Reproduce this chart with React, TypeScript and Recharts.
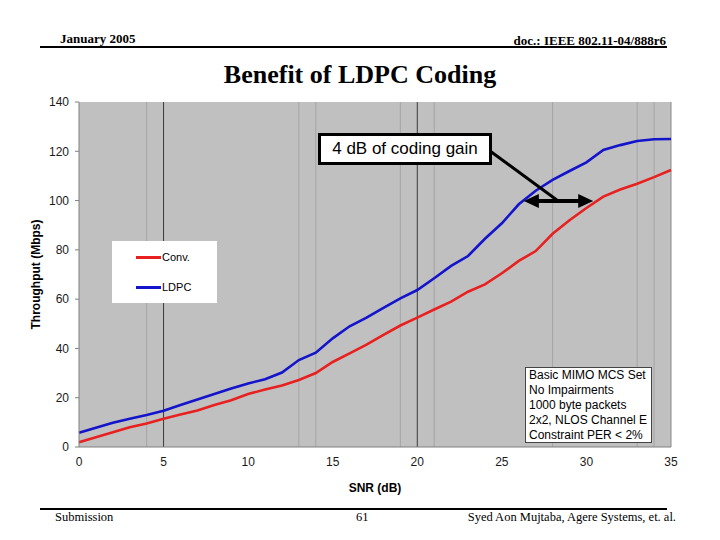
import React from "react";
import {
  LineChart,
  Line,
  XAxis,
  YAxis,
  CartesianGrid,
  ReferenceLine,
  Legend,
} from "recharts";

const snr = [
  0, 1, 2, 3, 4, 5, 6, 7, 8, 9, 10, 11, 12, 13, 14, 15, 16, 17, 18, 19, 20,
  21, 22, 23, 24, 25, 26, 27, 28, 29, 30, 31, 32, 33, 34, 35,
];
const conv = [
  1.9, 4, 6, 8, 9.5, 11.5, 13.2, 14.8, 17, 19, 21.5, 23.3, 25, 27.2, 30, 34.5,
  38, 41.5, 45.5, 49.3, 52.5, 55.8, 59, 63, 66, 70.5, 75.5, 79.5, 86.5, 92, 97,
  101.6, 104.5, 106.8, 109.5, 112.4,
];
const ldpc = [
  5.8, 7.8, 9.8, 11.5, 13, 14.7, 17, 19.3, 21.5, 23.7, 25.8, 27.5, 30.2, 35.3,
  38.3, 44.1, 49, 52.5, 56.5, 60.3, 63.7, 68.5, 73.5, 77.5, 84.5, 90.8, 98.5,
  104, 108.4, 112, 115.5, 120.5, 122.5, 124.2, 124.9, 125,
];
const xTicks = [0, 5, 10, 15, 20, 25, 30, 35];
const yTicks = [0, 20, 40, 60, 80, 100, 120, 140];
const lightLines = [4, 13, 14, 19, 21, 28, 33, 34];
const darkLines = [5, 20];
const infoLines = [
  "Basic MIMO MCS Set",
  "No Impairments",
  "1000 byte packets",
  "2x2, NLOS Channel E",
  "Constraint PER < 2%",
];
const gainText = "4 dB of coding gain";
const leaderStart = { x: 24.36, y: 119.8 };
const leaderEnd = { x: 28.25, y: 100.2 };
const gainLeft = { x: 26.3, y: 99.8 };
const gainRight = { x: 30.4, y: 99.8 };

const data = snr.map((s, i) => ({ snr: s, conv: conv[i], ldpc: ldpc[i] }));

const serif = "'Liberation Serif', 'Times New Roman', serif";
const sans = "'Liberation Sans', Arial, sans-serif";

const DoubleArrow = (p: any) => {
  const { x1, y1, x2, y2 } = p;
  const L = 15;
  const W = 7;
  return (
    <g>
      <line x1={x1 + L - 2} y1={y1} x2={x2 - L + 2} y2={y2} stroke="#000" strokeWidth={4} />
      <polygon points={`${x1},${y1} ${x1 + L},${y1 - W} ${x1 + L},${y1 + W}`} fill="#000" />
      <polygon points={`${x2},${y2} ${x2 - L},${y2 - W} ${x2 - L},${y2 + W}`} fill="#000" />
    </g>
  );
};

const Leader = (p: any) => {
  const { x1, y1, x2, y2 } = p;
  return <line x1={x1} y1={y1} x2={x2} y2={y2} stroke="#000" strokeWidth={3} />;
};

const LegendBox = (props: any) => {
  const payload = props.payload || [];
  return (
    <div
      style={{
        width: 105,
        height: 62,
        background: "#fff",
        position: "relative",
        fontFamily: sans,
        fontSize: 11,
        color: "#000",
      }}
    >
      {payload.map((e: any, i: number) => (
        <div
          key={i}
          style={{
            position: "absolute",
            left: 24,
            top: 10 + i * 30,
            height: 13,
            display: "flex",
            alignItems: "center",
          }}
        >
          <div style={{ width: 25, height: 3, background: e.color }} />
          <span style={{ marginLeft: 1, lineHeight: "13px" }}>{e.value}</span>
        </div>
      ))}
    </div>
  );
};

export default function App() {
  return (
    <div
      style={{
        position: "absolute",
        left: 0,
        top: 0,
        width: 720,
        height: 540,
        background: "#fff",
        overflow: "hidden",
      }}
    >
      {/* header */}
      <div
        style={{
          position: "absolute",
          left: 60,
          top: 31,
          fontFamily: serif,
          fontWeight: "bold",
          fontSize: 13,
          color: "#000",
        }}
      >
        January 2005
      </div>
      <div
        style={{
          position: "absolute",
          right: 54,
          top: 33,
          fontFamily: serif,
          fontWeight: "bold",
          fontSize: 13,
          color: "#000",
        }}
      >
        doc.: IEEE 802.11-04/888r6
      </div>
      <div
        style={{
          position: "absolute",
          left: 40,
          top: 46,
          width: 627,
          height: 2,
          background: "#000",
        }}
      />
      <div
        style={{
          position: "absolute",
          left: 0,
          width: 720,
          top: 60,
          textAlign: "center",
          fontFamily: serif,
          fontWeight: "bold",
          fontSize: 26,
          color: "#000",
        }}
      >
        Benefit of LDPC Coding
      </div>

      {/* chart */}
      <div style={{ position: "absolute", left: 0, top: 0 }}>
        <LineChart
          width={720}
          height={540}
          data={data}
          margin={{ top: 102, right: 49, bottom: 48, left: 31 }}
        >
          <CartesianGrid horizontal={false} vertical={false} fill="#C0C0C0" />
          {lightLines.map((v) => (
            <ReferenceLine key={"l" + v} x={v} stroke="#A4A4A4" strokeWidth={1} />
          ))}
          {darkLines.map((v) => (
            <ReferenceLine key={"d" + v} x={v} stroke="#3A3A3A" strokeWidth={1} />
          ))}
          <ReferenceLine x={35} stroke="#8A8A8A" strokeWidth={1} />
          <XAxis
            dataKey="snr"
            type="number"
            domain={[0, 35]}
            ticks={xTicks}
            height={45}
            tickLine={false}
            tickSize={8}
            tickMargin={2}
            axisLine={{ stroke: "#808080" }}
            tick={{ fill: "#1a1a1a", fontSize: 12, fontFamily: sans }}
            label={{
              value: "SNR (dB)",
              position: "insideBottom",
              offset: 0,
              style: { fontFamily: sans, fontSize: 12, fontWeight: "bold", fill: "#000" },
            }}
          />
          <YAxis
            type="number"
            domain={[0, 140]}
            ticks={yTicks}
            width={48}
            tickSize={4}
            tickMargin={6}
            tickLine={{ stroke: "#808080" }}
            axisLine={{ stroke: "#808080" }}
            tick={{ fill: "#1a1a1a", fontSize: 12, fontFamily: sans }}
            label={{
              value: "Throughput (Mbps)",
              angle: -90,
              position: "insideLeft",
              offset: 5,
              style: {
                textAnchor: "middle",
                fontFamily: sans,
                fontSize: 12,
                fontWeight: "bold",
                fill: "#000",
              },
            }}
          />
          <Legend
            layout="vertical"
            align="center"
            verticalAlign="middle"
            content={<LegendBox />}
            wrapperStyle={{ left: 112, top: 241, width: 105, height: 62 }}
          />
          <Line
            type="linear"
            dataKey="conv"
            name="Conv."
            stroke="#E82020"
            strokeWidth={2.6}
            dot={false}
            isAnimationActive={false}
          />
          <Line
            type="linear"
            dataKey="ldpc"
            name="LDPC"
            stroke="#1414CC"
            strokeWidth={2.6}
            dot={false}
            isAnimationActive={false}
          />
          <ReferenceLine segment={[leaderStart, leaderEnd]} shape={<Leader />} />
          <ReferenceLine segment={[gainLeft, gainRight]} shape={<DoubleArrow />} />
        </LineChart>
      </div>

      {/* annotation box */}
      <div
        style={{
          position: "absolute",
          left: 318,
          top: 133,
          width: 168,
          height: 26,
          border: "3px solid #000",
          background: "#fff",
          fontFamily: sans,
          fontSize: 17,
          lineHeight: "26px",
          textAlign: "center",
          color: "#000",
          whiteSpace: "nowrap",
        }}
      >
        {gainText}
      </div>

      {/* info box */}
      <div
        style={{
          position: "absolute",
          left: 525,
          top: 367,
          width: 122,
          height: 74,
          border: "1px solid #444",
          background: "#fff",
          fontFamily: sans,
          fontSize: 12,
          lineHeight: "15px",
          color: "#000",
          paddingLeft: 3,
          paddingTop: 0,
          whiteSpace: "nowrap",
        }}
      >
        {infoLines.map((t, i) => (
          <div key={i}>{t}</div>
        ))}
      </div>

      {/* footer */}
      <div
        style={{
          position: "absolute",
          left: 40,
          top: 508,
          width: 627,
          height: 2,
          background: "#000",
        }}
      />
      <div
        style={{
          position: "absolute",
          left: 55,
          top: 510,
          fontFamily: serif,
          fontSize: 12.5,
          color: "#000",
        }}
      >
        Submission
      </div>
      <div
        style={{
          position: "absolute",
          left: 356,
          top: 510,
          fontFamily: serif,
          fontSize: 12.5,
          color: "#000",
        }}
      >
        61
      </div>
      <div
        style={{
          position: "absolute",
          right: 44,
          top: 510,
          fontFamily: serif,
          fontSize: 12.5,
          color: "#000",
        }}
      >
        Syed Aon Mujtaba, Agere Systems, et. al.
      </div>
    </div>
  );
}
